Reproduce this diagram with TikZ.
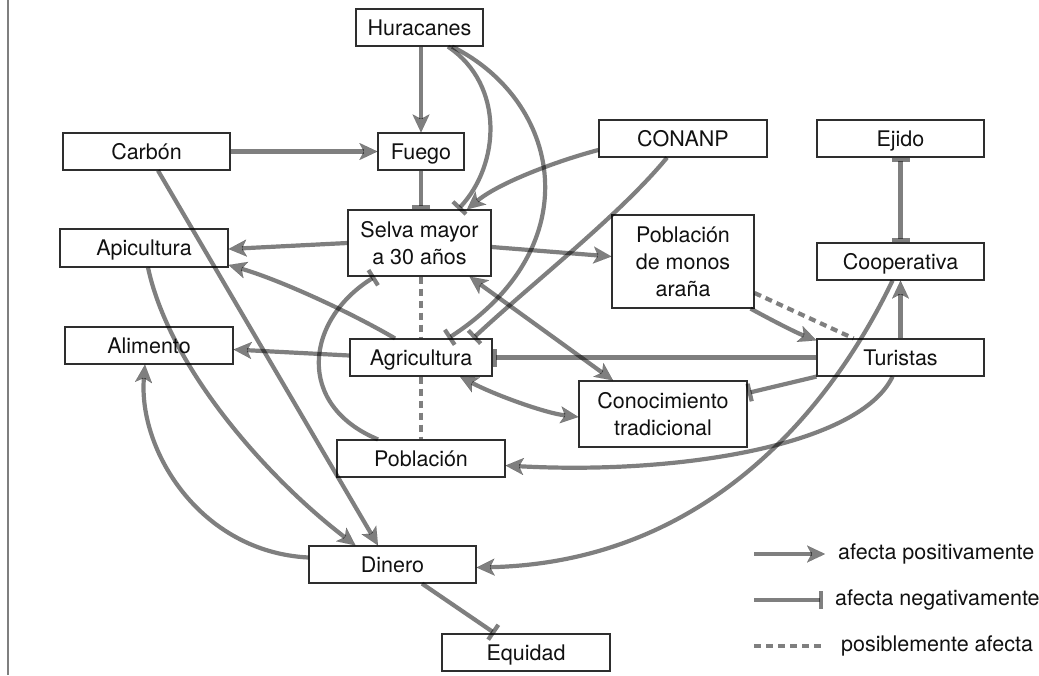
\documentclass[tikz,border=0pt]{standalone}
\usepackage{fontspec}
\setmainfont{TeX Gyre Heros}
\usetikzlibrary{arrows.meta}
\definecolor{boxc}{HTML}{2E2E2E}
\definecolor{txt}{HTML}{111111}
\begin{document}
\begin{tikzpicture}[x=1pt,y=-1pt,
  box/.style={draw=boxc, line width=1.2pt, text=txt, inner sep=0pt, align=center,
    font=\fontsize{21.5}{27}\selectfont, minimum height=37pt},
  one/.style={text height=15.5pt, text depth=0pt},
  conn/.style={draw=black, draw opacity=0.5, fill opacity=0.5, line width=4.2pt},
  tip/.style={},
  posa/.style={conn, -{Stealth[length=18pt,width=17pt,inset=4.5pt,line width=0.01pt]}},
  both/.style={conn, {Stealth[length=18pt,width=17pt,inset=4.5pt,line width=0.01pt]}-{Stealth[length=18pt,width=17pt,inset=4.5pt,line width=0.01pt]}},
  nega/.style={conn, -{Bar[width=18pt]}},
  negboth/.style={conn, {Bar[width=18pt]}-{Bar[width=18pt]}},
  maybe/.style={conn, dash pattern=on 7pt off 5pt},
  legtext/.style={anchor=west, inner sep=0pt, text=txt, font=\fontsize{21.5}{27}\selectfont}
]
\useasboundingbox (0,0) rectangle (1039,675);
% left rule
\coordinate (rt) at (8,0);
\coordinate (rb) at (8,675);
\draw[draw=black, draw opacity=0.5, line width=2pt] (rt) -- (rb);

% nodes
\node[box, one, minimum width=127pt] (hur) at (419.5,27.5) {Huracanes};
\node[box, one, minimum width=86pt] (fue) at (421,151.5) {Fuego};
\node[box, one, minimum width=167pt] (car) at (146.5,151.5) {Carbón};
\node[box, minimum width=143pt, minimum height=66pt] (sel) at (419.5,243) {Selva mayor\\a 30 años};
\node[box, one, minimum width=168pt, minimum height=38pt] (api) at (144,248) {Apicultura};
\node[box, one, minimum width=168pt] (con) at (683,138.5) {CONANP};
\node[box, one, minimum width=167pt] (eji) at (900.5,138.5) {Ejido};
\node[box, minimum width=142pt, minimum height=93pt] (mon) at (683,261.5) {Población\\de monos\\araña};
\node[box, one, minimum width=167pt] (coo) at (900.5,261.5) {Cooperativa};
\node[box, one, minimum width=168pt] (ali) at (149,345.5) {Alimento};
\node[box, one, minimum width=142pt] (agr) at (421,357.5) {Agricultura};
\node[box, one, minimum width=167pt] (tur) at (900.5,357.5) {Turistas};
\node[box, minimum width=168pt, minimum height=66pt] (cono) at (663,414) {Conocimiento\\tradicional};
\node[box, one, minimum width=168pt] (pob) at (421,458.5) {Población};
\node[box, one, minimum width=167pt] (din) at (392.5,564.5) {Dinero};
\node[box, one, minimum width=168pt] (equ) at (526,652.5) {Equidad};

% connectors
\draw[posa] (hur.south -| fue) -- (fue.north);
\draw[nega] ([xshift=28.5pt]hur.south) .. controls (505,85) and (500,165) .. ([xshift=38.5pt]sel.north);
\draw[nega] ([xshift=32.5pt]hur.south) .. controls (560,100) and (592,245) .. ([xshift=27pt]agr.north);
\draw[posa] (car.east) -- (fue.west);
\draw[nega] (fue.south) -- (fue.south |- sel.north);
\draw[posa] ([yshift=-11.5pt]con.west) .. controls (560,160) and (500,182) .. ([xshift=47.5pt]sel.north);
\draw[nega] ([xshift=-16pt]con.south) .. controls (620,215) and (530,285) .. ([xshift=52pt]agr.north);
\draw[negboth] (eji.south) -- (coo.north);
\draw[posa] (sel.west) -- ([yshift=-1pt]api.east);
\draw[posa] ([yshift=-4pt]sel.east) -- ([yshift=5pt]mon.west);
\draw[maybe] (agr.north |- sel.south) -- (agr.north);
\draw[maybe] (agr.south) -- (pob.north);
\draw[posa] ([xshift=-26pt]agr.north) .. controls (350,312) and (280,280) .. ([yshift=-17pt]api.east);
\draw[posa] ([yshift=2pt]agr.west) -- ([yshift=-4pt]ali.east);
\draw[nega] (tur.west) -- (agr.east);
\draw[both] ([xshift=50pt]sel.south) -- ([xshift=-50pt]cono.north);
\draw[both] ([xshift=39pt]agr.south) .. controls (495,395) and (545,413) .. ([yshift=-3pt]cono.west);
\draw[nega] ([xshift=-43pt]pob.north) .. controls (295,405) and (305,320) .. ([xshift=-44.5pt]sel.south);
\draw[posa] ([xshift=-4pt]mon.south east) .. controls (775,322) and (797,333) .. ([yshift=-2pt]tur.north west);
\draw[maybe] ([yshift=-31.5pt]mon.east) -- ([xshift=-47pt]tur.north);
\draw[posa] (tur.north) -- (coo.south);
\draw[posa] ([xshift=-8pt]coo.south) .. controls (840,390) and (720,562) .. ([yshift=-3pt]din.east);
\draw[nega] (tur.south west) -- ([yshift=21pt]cono.east);
\draw[posa] ([xshift=-8pt]tur.south) .. controls (860,445) and (680,475) .. ([yshift=-7pt]pob.east);
\draw[posa] ([xshift=11.5pt]car.south) -- ([xshift=-14.5pt]din.north);
\draw[posa] ([xshift=4pt]api.south) .. controls (170,370) and (270,480) .. ([xshift=-37pt]din.north);
\draw[posa] ([yshift=7pt]din.west) .. controls (200,552) and (138,450) .. ([xshift=-4pt]ali.south);
\draw[nega] ([xshift=29.5pt]din.south) -- ([xshift=-31pt]equ.north);

% legend
\coordinate (l1a) at (754,554);
\coordinate (l1b) at (825,554);
\coordinate (l2a) at (754,600);
\coordinate (l2b) at (823,600);
\coordinate (l3a) at (754,646);
\coordinate (l3b) at (822,646);
\draw[posa] (l1a) -- (l1b);
\draw[nega] (l2a) -- (l2b);
\draw[maybe] (l3a) -- (l3b);
\node[legtext] (t1) at (838,554) {afecta positivamente};
\node[legtext] (t2) at (835,600) {afecta negativamente};
\node[legtext] (t3) at (841,646) {posiblemente afecta};
\end{tikzpicture}
\end{document}
